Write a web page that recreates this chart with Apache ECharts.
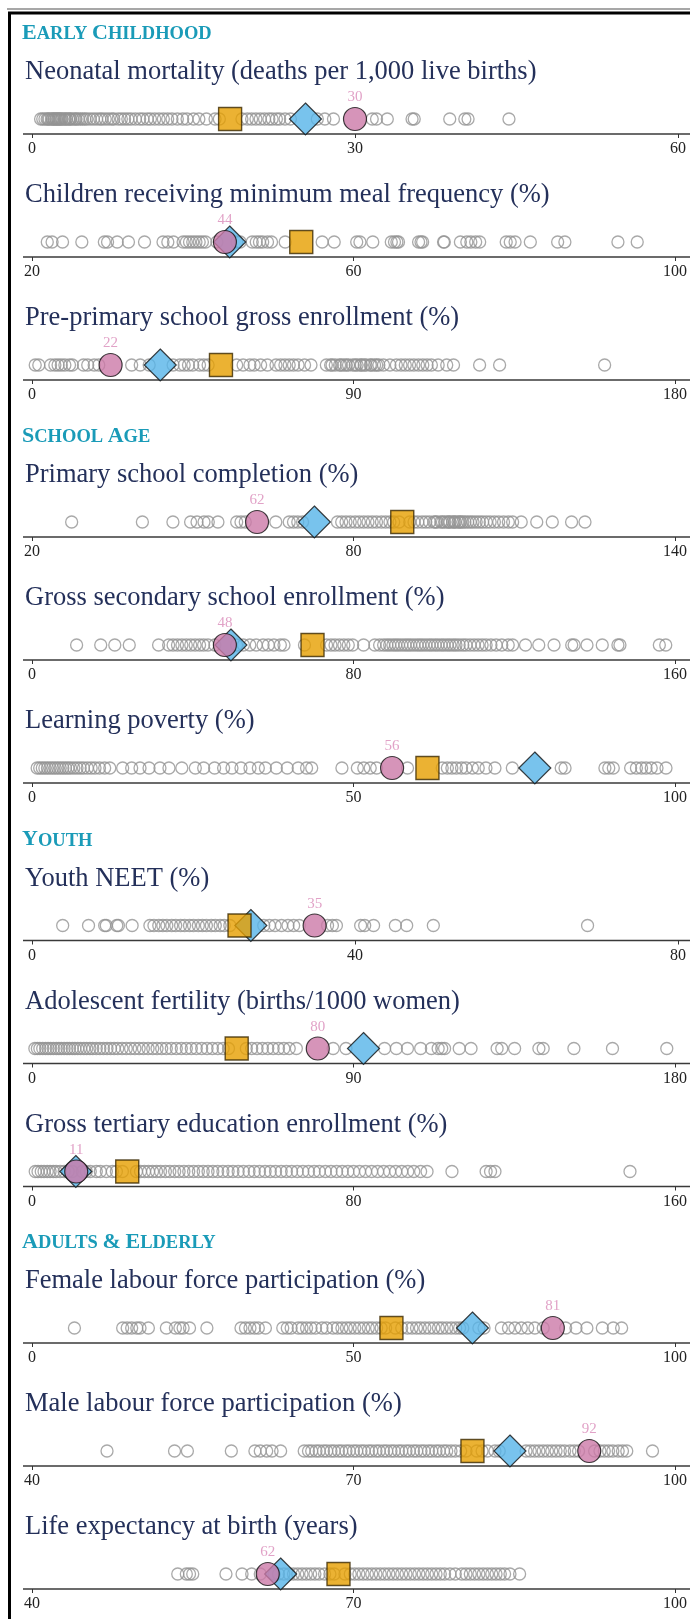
<!DOCTYPE html>
<html>
<head>
<meta charset="utf-8">
<script src="https://cdn.jsdelivr.net/npm/echarts@6.0.0/dist/echarts.min.js"></script>
<style>
html, body { margin: 0; padding: 0; background: #fff; }
#chart { width: 690px; height: 1619px; }
</style>
</head>
<body>
<div id="chart"></div>
<script>
// ---- data ----
var sectionNames = ['EARLY CHILDHOOD', 'SCHOOL AGE', 'YOUTH', 'ADULTS & ELDERLY']
var indicatorNames = [
  'Neonatal mortality (deaths per 1,000 live births)',
  'Children receiving minimum meal frequency (%)',
  'Pre-primary school gross enrollment (%)',
  'Primary school completion (%)',
  'Gross secondary school enrollment (%)',
  'Learning poverty (%)',
  'Youth NEET (%)',
  'Adolescent fertility (births/1000 women)',
  'Gross tertiary education enrollment (%)',
  'Female labour force participation (%)',
  'Male labour force participation (%)',
  'Life expectancy at birth (years)'
]
var axisMin = [0, 20, 0, 20, 0, 0, 0, 0, 0, 0, 40, 40]
var axisMax = [60, 100, 180, 140, 160, 100, 80, 180, 160, 100, 100, 100]
var axisStep = [30, 40, 90, 60, 80, 50, 40, 90, 80, 50, 30, 30]

// highlighted country (circle), region (diamond), income group (square)
var countryVals = [30, 44, 22, 62, 48, 56, 35, 80, 11, 81, 92, 62]
var regionVals = [25.4, 44.6, 35.9, 72.7, 49.5, 78.2, 27.1, 92.8, 10.9, 68.5, 84.6, 63.2]
var incomeVals = [18.4, 53.5, 52.9, 89.1, 69.8, 61.5, 25.7, 57.3, 23.7, 55.9, 81.1, 68.6]

// all other countries
var neonatal = [0.8, 1.0, 1.2, 1.4, 1.5, 1.6, 1.8, 1.9, 2.0, 2.1, 2.2, 2.3, 2.4, 2.5, 2.6, 2.7, 2.8, 3.0, 3.1, 3.2, 3.4, 3.5, 3.6, 3.8, 4.0, 4.1, 4.3, 4.5, 4.7, 4.9, 5.1, 5.4, 5.7, 6.0, 6.3, 6.5, 6.8, 7.1, 7.4, 7.6, 8.0, 8.3, 8.6, 8.9, 9.2, 9.6, 10.0, 10.3, 10.7, 11.0, 11.4, 11.8, 12.2, 12.6, 13.0, 13.5, 14.0, 14.4, 15.0, 15.5, 16.2, 17.0, 17.4, 19.5, 20.0, 20.4, 20.8, 21.2, 21.6, 22.0, 22.3, 22.7, 23.0, 23.5, 24.0, 26.5, 27.2, 28.0, 31.6, 32.0, 33.0, 35.3, 35.5, 38.8, 40.2, 40.5, 44.3]
var mealFreq = [21.9, 22.5, 23.8, 26.2, 29.0, 29.4, 30.6, 32.0, 34.0, 36.3, 36.9, 37.6, 38.8, 39.2, 39.6, 40.0, 40.4, 40.8, 41.2, 41.6, 43.0, 45.5, 45.9, 47.4, 47.9, 48.3, 48.7, 49.3, 49.8, 51.5, 56.1, 57.6, 60.4, 60.8, 62.4, 64.7, 65.1, 65.4, 65.6, 68.1, 68.4, 68.6, 71.2, 71.3, 73.3, 74.1, 74.6, 75.2, 75.7, 79.0, 79.5, 80.1, 82.0, 85.4, 86.3, 92.9, 95.3]
var prePrimary = [0.9, 1.9, 5.2, 6.4, 7.3, 8.2, 9.2, 10.5, 11.3, 14.4, 15.6, 17.4, 18.7, 27.9, 30.3, 32.8, 39.5, 41.4, 42.6, 43.8, 45.0, 46.9, 48.1, 49.3, 57.3, 59.1, 61.0, 62.2, 64.0, 65.9, 68.3, 69.6, 70.8, 72.0, 73.2, 74.5, 76.3, 78.1, 82.4, 83.6, 84.0, 84.9, 86.1, 86.5, 87.3, 88.0, 88.6, 89.8, 90.5, 91.0, 92.0, 92.2, 93.0, 93.5, 94.7, 95.0, 95.9, 96.5, 97.1, 98.4, 100.2, 102.0, 103.3, 104.5, 105.7, 106.9, 108.2, 109.4, 110.6, 111.8, 113.7, 116.1, 118.0, 125.3, 130.9, 160.3]
var primaryCompl = [27.4, 40.6, 46.3, 49.6, 50.8, 52.1, 52.9, 54.7, 58.2, 59.0, 59.8, 65.5, 68.0, 68.8, 69.6, 70.5, 77.0, 77.8, 78.6, 79.4, 80.3, 81.1, 81.9, 82.7, 83.5, 84.3, 85.2, 86.0, 86.8, 87.5, 88.5, 90.5, 91.3, 92.0, 92.8, 93.5, 94.2, 95.0, 95.3, 95.6, 96.3, 96.6, 97.0, 97.5, 97.8, 98.0, 98.5, 98.8, 99.0, 99.5, 99.8, 100.0, 100.4, 100.8, 101.3, 101.8, 102.3, 102.9, 103.5, 104.1, 104.8, 105.5, 106.3, 107.1, 108.0, 108.9, 109.7, 111.3, 114.2, 117.1, 120.7, 123.2]
var secondaryEnrol = [11.1, 17.1, 20.6, 24.2, 31.5, 34.0, 35.1, 36.2, 37.3, 38.4, 39.5, 40.6, 41.7, 42.7, 43.8, 45.5, 50.9, 52.6, 54.2, 55.8, 57.5, 58.8, 60.2, 61.8, 62.7, 67.8, 73.3, 74.4, 75.4, 76.5, 77.6, 78.7, 79.8, 82.5, 85.3, 86.5, 87.5, 88.3, 89.0, 89.8, 90.5, 91.2, 92.0, 92.8, 93.5, 94.2, 95.0, 95.8, 96.5, 97.2, 98.0, 98.8, 99.5, 100.3, 101.0, 101.8, 102.5, 103.3, 104.0, 104.8, 105.5, 106.3, 107.2, 108.0, 109.0, 110.0, 111.0, 112.0, 113.0, 114.2, 115.5, 116.9, 118.5, 119.6, 122.8, 126.1, 129.9, 134.3, 134.9, 138.1, 141.9, 145.8, 146.3, 156.1, 157.7]
var learningPoverty = [0.8, 1.2, 1.6, 2.0, 2.4, 2.8, 3.2, 3.6, 4.0, 4.4, 4.8, 5.2, 5.6, 6.0, 6.5, 7.0, 7.5, 8.0, 8.6, 9.2, 9.8, 10.5, 11.3, 12.1, 14.1, 15.5, 16.8, 18.2, 19.9, 21.3, 23.3, 25.4, 26.7, 28.4, 29.8, 31.1, 32.5, 33.9, 35.2, 36.3, 38.0, 39.7, 41.4, 42.7, 43.5, 48.2, 50.6, 51.6, 52.6, 53.6, 58.4, 63.8, 64.6, 65.3, 66.0, 66.8, 67.5, 68.5, 69.4, 70.6, 72.0, 74.7, 82.3, 82.9, 89.1, 89.7, 90.4, 93.1, 94.0, 94.8, 95.5, 96.3, 97.2, 98.6]
var youthNeet = [3.8, 7.0, 9.0, 9.2, 10.5, 10.7, 12.4, 14.6, 15.1, 15.7, 16.2, 16.7, 17.3, 17.8, 18.4, 18.9, 19.5, 20.0, 20.6, 21.1, 21.6, 22.2, 22.7, 23.3, 23.8, 24.5, 28.7, 29.4, 30.1, 30.9, 31.7, 32.4, 33.1, 36.6, 37.2, 37.7, 40.7, 41.2, 42.3, 45.0, 46.4, 49.7, 68.8]
var adolFertility = [0.8, 1.5, 2.2, 3.0, 3.8, 4.5, 5.2, 6.0, 6.8, 7.5, 8.2, 9.0, 9.8, 10.5, 11.3, 12.0, 12.8, 13.6, 14.5, 15.3, 16.2, 17.0, 18.0, 19.0, 20.0, 21.0, 22.0, 23.0, 24.0, 25.2, 26.4, 27.6, 28.8, 30.0, 31.2, 32.5, 33.8, 35.0, 36.3, 37.6, 39.0, 40.4, 41.8, 43.2, 44.6, 46.0, 47.5, 49.0, 50.5, 52.0, 53.5, 55.0, 60.0, 61.5, 63.0, 64.5, 66.0, 67.5, 69.0, 70.5, 72.0, 74.0, 84.3, 87.9, 98.7, 102.0, 105.1, 108.8, 111.8, 113.7, 114.7, 115.5, 119.6, 122.9, 130.2, 131.5, 135.1, 141.9, 143.1, 151.7, 162.5, 177.7]
var tertiaryEnrol = [0.8, 1.5, 2.3, 3.0, 3.8, 4.5, 5.3, 6.0, 7.0, 8.0, 9.0, 10.0, 12.5, 13.5, 14.5, 16.0, 17.0, 18.5, 20.0, 21.0, 22.5, 26.0, 27.0, 28.0, 29.0, 30.0, 31.0, 32.0, 33.2, 34.3, 35.5, 36.6, 37.8, 39.0, 40.2, 41.4, 42.6, 43.8, 45.0, 46.2, 47.5, 48.8, 50.0, 51.3, 52.6, 54.0, 55.3, 56.6, 58.0, 59.3, 60.6, 62.0, 63.3, 64.6, 66.0, 67.4, 68.8, 70.2, 71.5, 73.0, 74.4, 75.8, 77.2, 78.6, 80.0, 81.5, 83.0, 84.5, 86.0, 87.5, 89.0, 90.5, 92.0, 93.5, 95.0, 96.7, 98.3, 104.5, 113.0, 114.1, 115.2, 148.8]
var femaleLfp = [6.6, 14.1, 14.8, 15.5, 16.3, 16.8, 18.1, 20.9, 22.3, 23.0, 23.5, 24.5, 27.2, 32.5, 33.2, 33.9, 34.6, 35.2, 36.3, 39.0, 39.7, 40.3, 41.4, 42.0, 42.7, 43.4, 44.1, 45.1, 45.8, 46.8, 47.5, 48.2, 48.9, 49.5, 50.2, 50.9, 51.6, 52.3, 52.9, 53.6, 54.3, 55.0, 56.5, 57.5, 58.4, 59.1, 59.8, 60.4, 61.1, 61.8, 62.5, 63.2, 63.8, 64.5, 65.2, 65.9, 66.5, 67.0, 69.5, 70.3, 73.0, 74.1, 75.1, 76.1, 77.1, 78.2, 79.5, 83.0, 84.6, 86.3, 88.7, 90.4, 91.7]
var maleLfp = [47.0, 53.3, 54.5, 58.6, 60.8, 61.3, 61.9, 62.4, 63.2, 65.4, 65.8, 66.1, 66.5, 66.8, 67.2, 67.5, 67.9, 68.2, 68.6, 68.9, 69.3, 69.6, 70.0, 70.3, 70.7, 71.0, 71.4, 71.7, 72.1, 72.4, 72.8, 73.1, 73.5, 73.8, 74.2, 74.5, 74.9, 75.2, 75.6, 75.9, 76.3, 76.6, 77.0, 77.3, 77.7, 78.0, 78.4, 78.7, 79.1, 79.5, 80.0, 80.5, 81.5, 82.0, 82.5, 83.2, 83.6, 86.1, 86.5, 86.9, 87.3, 87.7, 88.1, 88.5, 88.9, 89.3, 89.7, 90.2, 90.6, 91.0, 92.5, 93.0, 93.4, 93.8, 94.2, 94.7, 95.1, 95.5, 97.9]
var lifeExp = [53.6, 54.4, 54.7, 55.0, 58.1, 59.6, 60.5, 61.3, 62.6, 63.0, 63.5, 64.0, 64.4, 64.8, 65.2, 65.6, 66.0, 66.4, 66.8, 67.3, 67.8, 68.2, 69.2, 69.7, 70.1, 70.5, 70.9, 71.3, 71.7, 72.1, 72.5, 72.9, 73.3, 73.7, 74.1, 74.5, 74.9, 75.3, 75.7, 76.1, 76.5, 76.9, 77.3, 77.7, 78.1, 78.5, 79.0, 79.5, 80.1, 80.5, 80.9, 81.3, 81.7, 82.1, 82.5, 82.9, 83.3, 83.7, 84.1, 84.6, 85.5]

var otherVals = [neonatal, mealFreq, prePrimary, primaryCompl, secondaryEnrol, learningPoverty,
  youthNeet, adolFertility, tertiaryEnrol, femaleLfp, maleLfp, lifeExp]

// ---- layout ----
var W = 690
var groupAxisY = [134, 537, 940.5, 1343] // axis line of first panel in each section
var panelGap = 123
var plotLeft = 32
var plotRight = 678
var serif = 'Liberation Serif'

var grid = []
var xAxis = []
var yAxis = []
var series = []
var title = []
var graphic = []

// frame
graphic.push({ type: 'line', shape: { x1: 7, y1: 9, x2: W, y2: 9 }, style: { stroke: '#8a8a8a', lineWidth: 1.5 }, silent: true })
graphic.push({ type: 'line', shape: { x1: 8, y1: 13, x2: W, y2: 13 }, style: { stroke: '#000', lineWidth: 3 }, silent: true })
graphic.push({ type: 'line', shape: { x1: 9.5, y1: 12, x2: 9.5, y2: 1619 }, style: { stroke: '#000', lineWidth: 3 }, silent: true })

function smallCaps(txt) {
  // first letter of every word larger, rest smaller
  return txt.split(' ').map(function(w) {
    return '{big|' + w.charAt(0) + '}' + (w.length > 1 ? '{sm|' + w.slice(1) + '}' : '')
  }).join('{sm| }')
}

sectionNames.forEach(function(name, g) {
  title.push({
    text: smallCaps(name),
    left: 22,
    top: groupAxisY[g] - 112,
    padding: 0,
    textStyle: {
      rich: {
        big: { fontFamily: serif, fontWeight: 'bold', fontSize: 22, color: '#1a9bb8', verticalAlign: 'bottom' },
        sm: { fontFamily: serif, fontWeight: 'bold', fontSize: 18.5, color: '#1a9bb8', verticalAlign: 'bottom' }
      }
    }
  })
})

indicatorNames.forEach(function(name, i) {
  var g = Math.floor(i / 3)
  var axisY = groupAxisY[g] + (i % 3) * panelGap

  title.push({
    text: name,
    left: 25,
    top: axisY - 75,
    padding: 0,
    textStyle: { fontFamily: serif, fontWeight: 'normal', fontSize: 26.5, color: '#24305a' }
  })

  grid.push({ left: plotLeft, width: plotRight - plotLeft, top: axisY - 30, height: 30 })

  xAxis.push({
    type: 'value',
    gridIndex: i,
    min: axisMin[i],
    max: axisMax[i],
    interval: axisStep[i],
    axisLine: { show: false, onZero: false },
    axisTick: { show: true, length: 4, lineStyle: { color: '#333', width: 1 } },
    axisLabel: { fontFamily: serif, fontSize: 16, color: '#222', margin: 7 },
    splitLine: { show: false }
  })
  yAxis.push({ type: 'value', gridIndex: i, min: -1, max: 1, show: false })

  // axis baseline runs from the left margin to the page edge
  graphic.push({ type: 'line', shape: { x1: 23, y1: axisY, x2: W, y2: axisY }, style: { stroke: '#3a3a3a', lineWidth: 1.6 }, silent: true })

  series.push({
    type: 'scatter',
    xAxisIndex: i,
    yAxisIndex: i,
    symbol: 'circle',
    symbolSize: 12,
    itemStyle: { color: 'rgba(255,255,255,0)', borderColor: '#939393', borderWidth: 1.3 },
    data: otherVals[i].map(function(v) { return [v, 0] }),
    z: 1,
    silent: true
  })
  series.push({
    type: 'scatter',
    xAxisIndex: i,
    yAxisIndex: i,
    symbol: 'diamond',
    symbolSize: 32,
    itemStyle: { color: '#56b4e9', borderColor: '#111', borderWidth: 1.2 },
    data: [[regionVals[i], 0]],
    z: 2,
    silent: true
  })
  series.push({
    type: 'scatter',
    xAxisIndex: i,
    yAxisIndex: i,
    symbol: 'rect',
    symbolSize: 23,
    itemStyle: { color: '#e69f00', borderColor: '#3a2800', borderWidth: 1.4 },
    data: [[incomeVals[i], 0]],
    z: 3,
    silent: true
  })
  series.push({
    type: 'scatter',
    xAxisIndex: i,
    yAxisIndex: i,
    symbol: 'circle',
    symbolSize: 23,
    itemStyle: { color: '#cc79a7', borderColor: '#111', borderWidth: 1.2 },
    label: {
      show: true,
      position: 'top',
      distance: 2,
      fontFamily: serif,
      fontSize: 15,
      color: '#d98bb9',
      formatter: function(p) { return Math.round(p.value[0]) }
    },
    data: [[countryVals[i], 0]],
    z: 4,
    silent: true
  })
})

var myChart = echarts.init(document.getElementById('chart'), null, { renderer: 'canvas' })
myChart.setOption({
  backgroundColor: '#fff',
  animation: false,
  title: title,
  grid: grid,
  xAxis: xAxis,
  yAxis: yAxis,
  series: series,
  graphic: graphic
})
window.addEventListener('resize', function() { myChart.resize() })
</script>
</body>
</html>
